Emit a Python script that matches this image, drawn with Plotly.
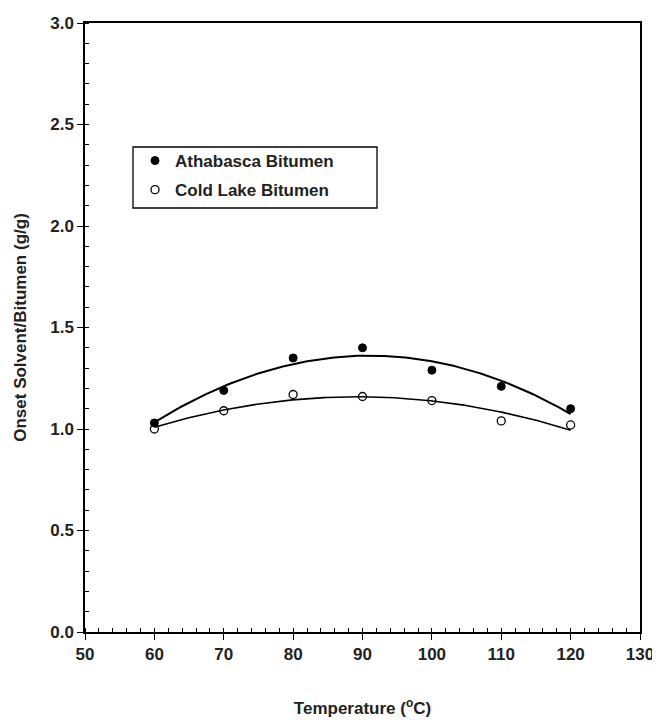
import numpy as np
import plotly.graph_objects as go

temps = [60, 70, 80, 90, 100, 110, 120]
athabasca = [1.03, 1.19, 1.35, 1.40, 1.29, 1.21, 1.10]
cold_lake = [1.00, 1.09, 1.17, 1.16, 1.14, 1.04, 1.02]

x_ticks = [50, 60, 70, 80, 90, 100, 110, 120, 130]
y_ticks = [0.0, 0.5, 1.0, 1.5, 2.0, 2.5, 3.0]
y_labels = ["0.0", "0.5", "1.0", "1.5", "2.0", "2.5", "3.0"]

FONT = "Liberation Sans, Arial, sans-serif"
TXT = "#222"

xs = np.linspace(min(temps), max(temps), 200)
fit_a = np.polyval(np.polyfit(temps, athabasca, 2), xs)
fit_c = np.polyval(np.polyfit(temps, cold_lake, 2), xs)

fig = go.Figure()
fig.add_trace(go.Scatter(x=xs, y=fit_a, mode="lines", line=dict(color="black", width=2),
                         showlegend=False, hoverinfo="skip"))
fig.add_trace(go.Scatter(x=xs, y=fit_c, mode="lines", line=dict(color="black", width=1.6),
                         showlegend=False, hoverinfo="skip"))
fig.add_trace(go.Scatter(x=temps, y=athabasca, mode="markers", name="<b>Athabasca Bitumen</b>",
                         legendgroup="a",
                         marker=dict(symbol="circle", size=8, color="black",
                                     line=dict(color="black", width=1))))
fig.add_trace(go.Scatter(x=temps, y=cold_lake, mode="markers", name="<b>Cold Lake Bitumen</b>",
                         legendgroup="c",
                         marker=dict(symbol="circle-open", size=8, color="black",
                                     line=dict(color="black", width=1.3))))

axis_common = dict(
    showgrid=False, zeroline=False, showline=True, linecolor="black", linewidth=1.5,
    mirror=True, ticks="outside", ticklen=6, tickwidth=1.3, tickcolor="black",
    tickfont=dict(family=FONT, size=17, color=TXT), automargin=False,
)

fig.update_xaxes(range=[50, 130], tickvals=x_ticks, ticktext=[f"<b>{t}</b>" for t in x_ticks],
                 minor=dict(dtick=2, ticks="inside", ticklen=4, tickcolor="black", tickwidth=1),
                 title=dict(text="<b>Temperature (<sup>o</sup>C)</b>",
                            font=dict(family=FONT, size=17, color=TXT), standoff=39),
                 **axis_common)
fig.update_yaxes(range=[0, 3.0], tickvals=y_ticks, ticktext=[f"<b>{t}</b>" for t in y_labels],
                 minor=dict(dtick=0.1, ticks="inside", ticklen=4, tickcolor="black", tickwidth=1),
                 title=dict(text="<b>Onset Solvent/Bitumen (g/g)</b>",
                            font=dict(family=FONT, size=17, color=TXT), standoff=19),
                 **axis_common)

# page body has an 8px margin: work in figure coordinates (screen - 8)
OFF = 8
W, H = 660 - OFF, 720 - OFF
PL, PR, PT, PB = 85 - OFF, 640 - OFF, 23 - OFF, 632 - OFF
pw, ph = PR - PL, PB - PT

fig.add_shape(type="rect", xref="paper", yref="paper",
              x0=(133 - OFF - PL) / pw, x1=(377 - OFF - PL) / pw,
              y0=(PB - (208 - OFF)) / ph, y1=(PB - (147 - OFF)) / ph,
              line=dict(color="black", width=1.3), fillcolor="rgba(0,0,0,0)")

fig.update_layout(
    width=W, height=H,
    margin=dict(l=PL, r=W - PR, t=PT, b=H - PB),
    plot_bgcolor="white", paper_bgcolor="white",
    legend=dict(x=(135 - OFF - PL) / pw, y=(PB - (143 - OFF)) / ph, xanchor="left", yanchor="top",
                bgcolor="rgba(0,0,0,0)", borderwidth=0, tracegroupgap=4,
                font=dict(family=FONT, size=17, color=TXT)),
)

fig.write_html("out.html")
